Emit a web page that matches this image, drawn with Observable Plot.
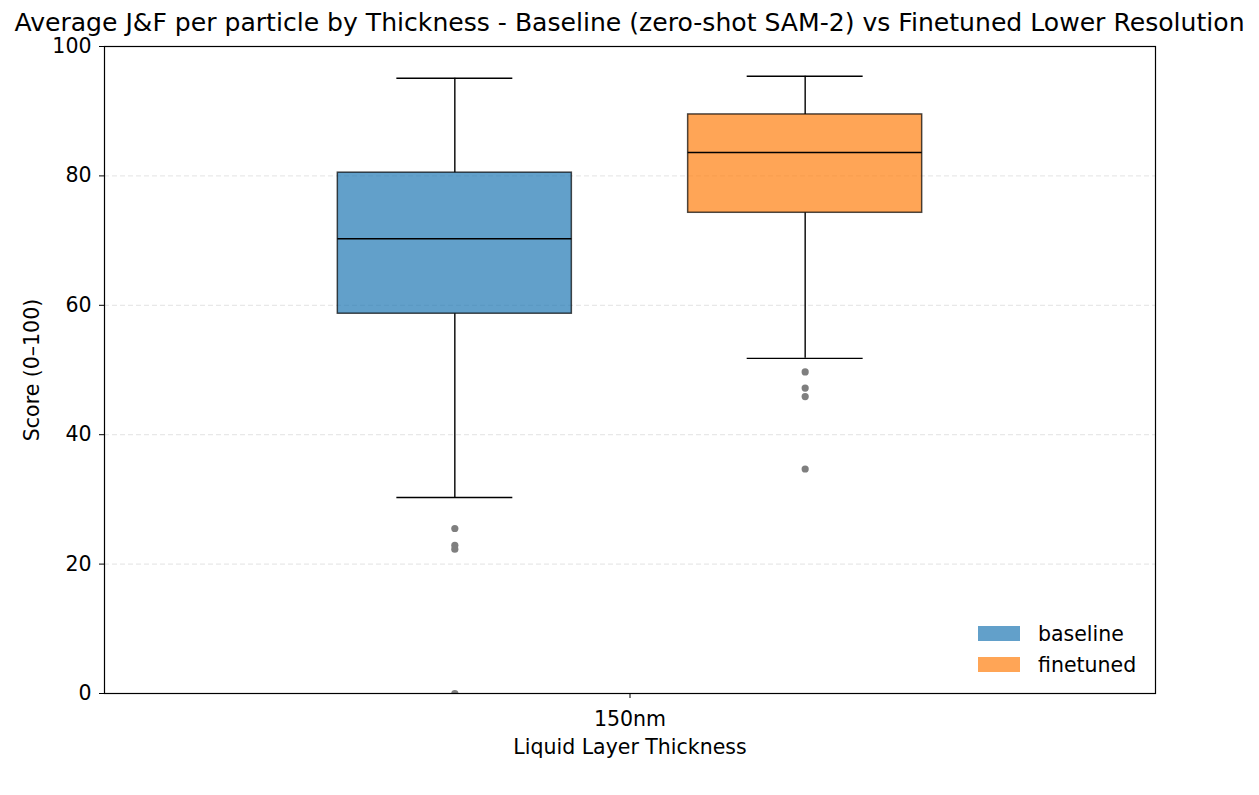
<!DOCTYPE html>
<html>
<head>
<meta charset="utf-8">
<script src="https://cdn.jsdelivr.net/npm/d3@7"></script>
<script src="https://cdn.jsdelivr.net/npm/@observablehq/plot@0.6"></script>
<style>
  html, body { margin: 0; padding: 0; background: #fff; }
  body { font-family: "DejaVu Sans", sans-serif; }
  #wrap { position: relative; width: 1259px; height: 795px; }
  #title { position: absolute; left: 0; top: 13px; width: 1259px; text-align: center; font-size: 25.1px; line-height: 20px; color: #000; white-space: nowrap; }
  #legend { position: absolute; left: 978px; top: 618px; font-size: 20.5px; color: #000; }
  .item { display: flex; align-items: center; height: 31px; }
  .sw { width: 42px; height: 15px; margin-right: 18px; }
</style>
</head>
<body>
<div id="wrap">
  <div id="chart"></div>
  <div id="title">Average J&amp;F per particle by Thickness - Baseline (zero-shot SAM-2) vs Finetuned Lower Resolution</div>
  <div id="legend"></div>
</div>
<script>
// ---- data ----
const groups = ["baseline", "finetuned"];
const whiskerLow = [30.3, 51.8];
const q1 = [58.7, 74.3];
const median = [70.3, 83.6];
const q3 = [80.5, 89.5];
const whiskerHigh = [95.1, 95.4];
const outliersBaseline = [25.5, 22.9, 22.3, 0];
const outliersFinetuned = [49.7, 47.2, 45.9, 34.7];
const thicknessLabels = ["150nm"];
const colors = ["#1f77b4", "#ff7f0e"];
const yTicks = [0, 20, 40, 60, 80, 100];

// ---- build tables ----
const boxes = groups.map((g, i) => ({
  group: g, pos: i * 2 - 1,
  lo: whiskerLow[i], q1: q1[i], med: median[i], q3: q3[i], hi: whiskerHigh[i]
}));
const outliers = [
  ...outliersBaseline.map(v => ({group: "baseline", pos: -1, v})),
  ...outliersFinetuned.map(v => ({group: "finetuned", pos: 1, v}))
];
const boxHalf = 0.668, capHalf = 0.331;

const chart = Plot.plot({
  width: 1259,
  height: 795,
  marginTop: 46,
  marginBottom: 102,
  marginLeft: 104,
  marginRight: 104,
  style: { fontFamily: "DejaVu Sans, sans-serif", fontSize: "20.5px", color: "#000", background: "#fff" },
  x: { domain: [-3, 3] },
  y: { domain: [0, 100] },
  color: { domain: groups, range: colors },
  marks: [
    Plot.gridY([20, 40, 60, 80], { stroke: "#b0b0b0", strokeOpacity: 0.35, strokeDasharray: "5,3", strokeWidth: 1 }),
    Plot.ruleX(boxes, { x: "pos", y1: "lo", y2: "q1", stroke: "#000", strokeWidth: 1.4 }),
    Plot.ruleX(boxes, { x: "pos", y1: "q3", y2: "hi", stroke: "#000", strokeWidth: 1.4 }),
    Plot.ruleY(boxes, { y: "lo", x1: d => d.pos - capHalf, x2: d => d.pos + capHalf, stroke: "#000", strokeWidth: 1.4 }),
    Plot.ruleY(boxes, { y: "hi", x1: d => d.pos - capHalf, x2: d => d.pos + capHalf, stroke: "#000", strokeWidth: 1.4 }),
    Plot.rect(boxes, { x1: d => d.pos - boxHalf, x2: d => d.pos + boxHalf, y1: "q1", y2: "q3", fill: "group", fillOpacity: 0.7, stroke: "#000", strokeOpacity: 0.7, strokeWidth: 1.5 }),
    Plot.ruleY(boxes, { y: "med", x1: d => d.pos - boxHalf, x2: d => d.pos + boxHalf, stroke: "#000", strokeWidth: 1.5 }),
    Plot.dot(outliers, { x: "pos", y: "v", r: 3.6, fill: "#7f7f7f", stroke: "none", clip: true }),
    Plot.axisY({ ticks: yTicks, tickSize: 5, tickPadding: 8, label: "Score (0–100)", labelAnchor: "center", labelArrow: "none", labelOffset: 80 }),
    Plot.axisX({ ticks: [0], tickFormat: (d, i) => thicknessLabels[i], tickSize: 5, tickPadding: 13, label: "Liquid Layer Thickness", labelAnchor: "center", labelArrow: "none", labelOffset: 60 }),
    Plot.frame({ stroke: "#000", strokeWidth: 1.2 })
  ]
});
document.getElementById("chart").appendChild(chart);

const legend = document.getElementById("legend");
groups.forEach((g, i) => {
  const item = document.createElement("div");
  item.className = "item";
  item.innerHTML = `<div class="sw" style="background:${colors[i]};opacity:0.7"></div><span>${g}</span>`;
  legend.appendChild(item);
});
</script>
</body>
</html>
